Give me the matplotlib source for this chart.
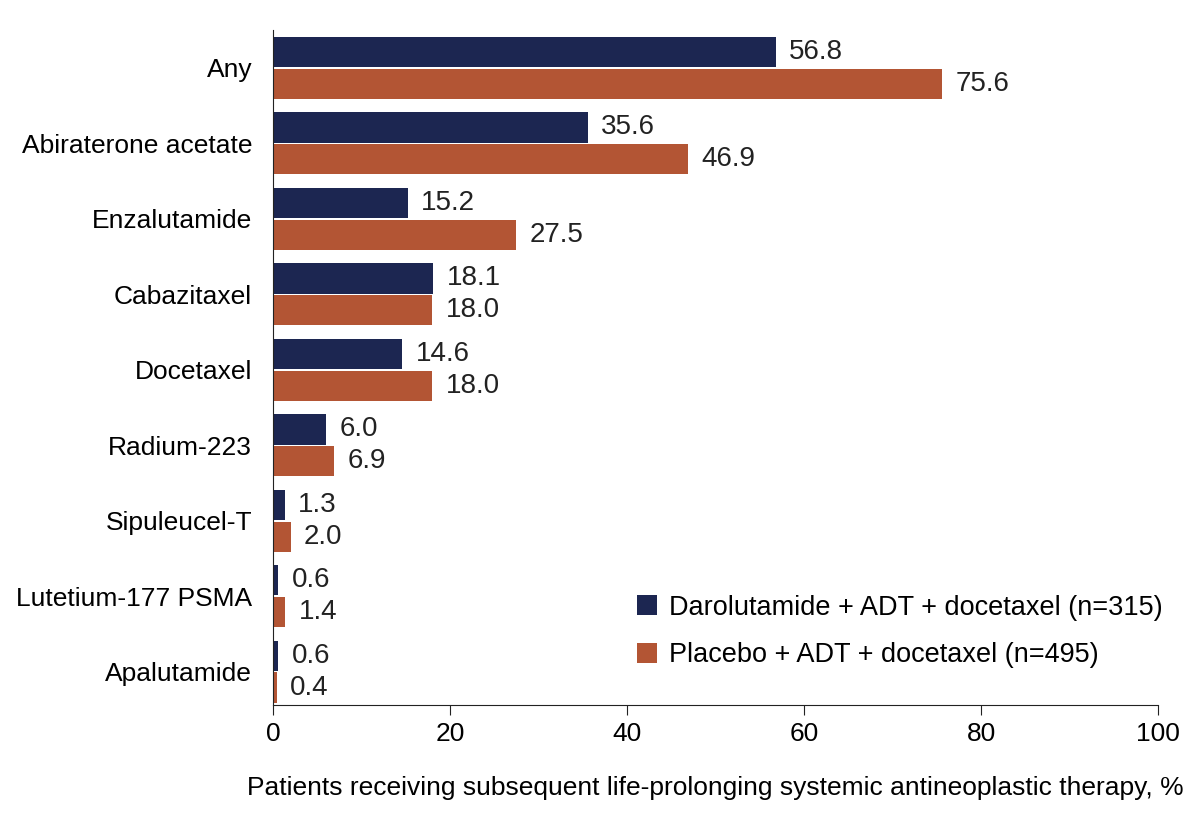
import matplotlib.pyplot as plt
import numpy as np

plt.rcParams['font.family'] = ['Liberation Sans', 'DejaVu Sans']

categories = ["Any", "Abiraterone acetate", "Enzalutamide", "Cabazitaxel", "Docetaxel",
              "Radium-223", "Sipuleucel-T", "Lutetium-177 PSMA", "Apalutamide"]
daro = [56.8, 35.6, 15.2, 18.1, 14.6, 6.0, 1.3, 0.6, 0.6]
placebo = [75.6, 46.9, 27.5, 18.0, 18.0, 6.9, 2.0, 1.4, 0.4]
series_names = ["Darolutamide + ADT + docetaxel (n=315)", "Placebo + ADT + docetaxel (n=495)"]

navy = "#1c2651"
orange = "#b35534"

fig = plt.figure(figsize=(12, 8.14), dpi=100)
ax = fig.add_axes([0.2275, 0.134, 0.7375, 0.829])

y = np.arange(len(categories))
h = 0.4
b1 = ax.barh(y - h / 2 - 0.01, daro, height=h, color=navy, label=series_names[0])
b2 = ax.barh(y + h / 2 + 0.01, placebo, height=h, color=orange, label=series_names[1])

for bars, vals in ((b1, daro), (b2, placebo)):
    for bar, v in zip(bars, vals):
        ax.text(v + 1.5, bar.get_y() + bar.get_height() / 2, f"{v:.1f}",
                va="center", ha="left", fontsize=20, color="#222222")

ax.set_xlim(0, 100)
ax.set_ylim(8.44, -0.5)
ax.set_yticks(y)
ax.set_yticklabels(categories, fontsize=19)
ax.tick_params(axis="y", length=0, pad=15)
ax.set_xticks([0, 20, 40, 60, 80, 100])
ax.tick_params(axis="x", labelsize=19, length=7, color="#222222", pad=5)
ax.spines["top"].set_visible(False)
ax.spines["right"].set_visible(False)
ax.spines["left"].set_color("#222222")
ax.spines["bottom"].set_color("#222222")
ax.set_xlabel("Patients receiving subsequent life-prolonging systemic antineoplastic therapy, %",
              fontsize=19, labelpad=22)

ax.legend(loc="lower right", bbox_to_anchor=(1.033, 0.018), frameon=False, fontsize=19.5,
          handlelength=0.75, handleheight=0.75, handletextpad=0.45, labelspacing=0.8)

fig.savefig("out.png", dpi=100)
